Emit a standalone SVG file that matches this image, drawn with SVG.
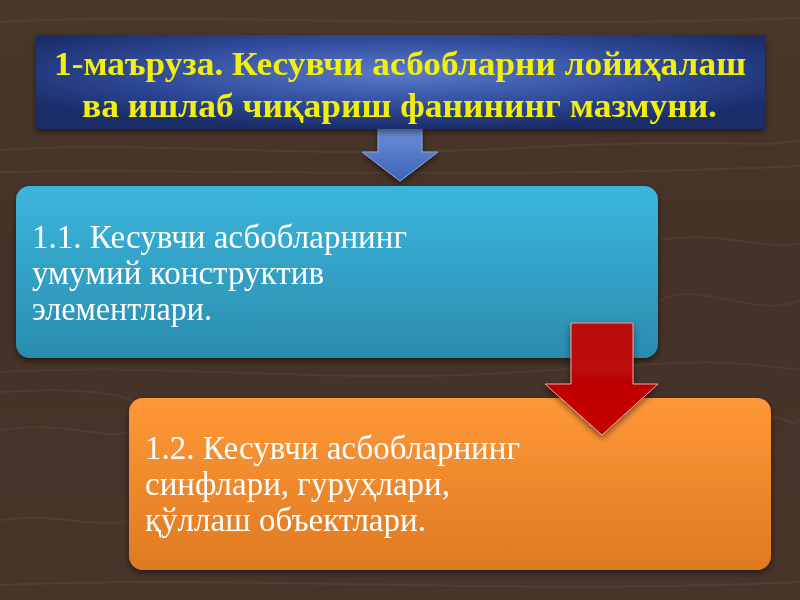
<svg xmlns="http://www.w3.org/2000/svg" width="800" height="600" viewBox="0 0 800 600">
  <defs>
    <linearGradient id="wood" x1="0" y1="0" x2="0" y2="1">
      <stop offset="0" stop-color="#4a372a"/>
      <stop offset="0.5" stop-color="#453228"/>
      <stop offset="1" stop-color="#48352a"/>
    </linearGradient>
    <radialGradient id="titleGrad" cx="0.5" cy="0.4" r="0.6">
      <stop offset="0" stop-color="#5a7bcc"/>
      <stop offset="0.6" stop-color="#2f4a98"/>
      <stop offset="1" stop-color="#1b2d6a"/>
    </radialGradient>
    <linearGradient id="blueGrad" x1="0" y1="0" x2="0" y2="1">
      <stop offset="0" stop-color="#3bb6dd"/>
      <stop offset="1" stop-color="#2a8cae"/>
    </linearGradient>
    <linearGradient id="orangeGrad" x1="0" y1="0" x2="0" y2="1">
      <stop offset="0" stop-color="#ff9838"/>
      <stop offset="1" stop-color="#de7a22"/>
    </linearGradient>
    <linearGradient id="blueArrow" x1="0" y1="0" x2="0" y2="1">
      <stop offset="0" stop-color="#6a8fd8"/>
      <stop offset="1" stop-color="#3f62b5"/>
    </linearGradient>
    <linearGradient id="redArrow" x1="0" y1="0" x2="0" y2="1">
      <stop offset="0" stop-color="#b80c0c"/>
      <stop offset="1" stop-color="#c40000"/>
    </linearGradient>
    <filter id="shadow" x="-10%" y="-10%" width="120%" height="130%">
      <feDropShadow dx="0" dy="3" stdDeviation="3" flood-color="#000" flood-opacity="0.5"/>
    </filter>
  </defs>
  <style>
    .grain { fill: none; stroke: #6b5444; stroke-opacity: 0.3; stroke-width: 2; }
    .title { font-family: "Liberation Serif", serif; font-weight: bold; font-size: 33px; fill: #f2ef0a; }
    .body { font-family: "Liberation Serif", serif; font-size: 34px; fill: #ffffff; }
  </style>

  <rect x="0" y="0" width="800" height="600" fill="url(#wood)"/>
  <g id="grain">
    <path class="grain" d="M0 22 C200 12 450 30 800 18"/>
    <path class="grain" d="M0 150 C150 140 300 160 520 148 S760 150 800 140"/>
    <path class="grain" d="M0 172 C200 168 500 180 800 166"/>
    <path class="grain" d="M0 372 C160 362 330 385 520 372 S720 360 800 370"/>
    <path class="grain" d="M0 392 C100 386 150 398 130 410"/>
    <path class="grain" d="M660 240 C720 230 760 250 800 244"/>
    <path class="grain" d="M660 300 C700 280 760 320 800 300"/>
    <path class="grain" d="M0 430 C60 420 100 440 130 432"/>
    <path class="grain" d="M0 520 C60 512 100 530 130 520"/>
    <path class="grain" d="M0 585 C250 575 500 595 800 582"/>
    <path class="grain" d="M770 420 C780 410 790 430 800 420"/>
  </g>

  <g id="connectors">
    <path d="M378 129 L422 129 L422 152 L438 152 L400 181 L362 152 L378 152 Z" fill="url(#blueArrow)" stroke="#8aa6e0" stroke-width="1" filter="url(#shadow)"/>
  </g>

  <g id="title-node" filter="url(#shadow)">
    <rect x="36" y="35" width="729" height="94" fill="url(#titleGrad)"/>
    <text class="title" x="54" y="75" textLength="692" lengthAdjust="spacingAndGlyphs">1-маъруза. Кесувчи асбобларни лойиҳалаш</text>
    <text class="title" x="82" y="117" textLength="635" lengthAdjust="spacingAndGlyphs">ва ишлаб чиқариш фанининг мазмуни.</text>
  </g>

  <g id="node-1-1" filter="url(#shadow)">
    <rect x="16" y="186" width="642" height="172" rx="14" fill="url(#blueGrad)"/>
    <text class="body" x="32" y="248" textLength="375" lengthAdjust="spacingAndGlyphs">1.1. Кесувчи асбобларнинг</text>
    <text class="body" x="32" y="284" textLength="292" lengthAdjust="spacingAndGlyphs">умумий конструктив</text>
    <text class="body" x="32" y="320" textLength="180" lengthAdjust="spacingAndGlyphs">элементлари.</text>
  </g>

  <g id="node-1-2" filter="url(#shadow)">
    <rect x="129" y="398" width="642" height="172" rx="14" fill="url(#orangeGrad)"/>
    <text class="body" x="145" y="459" textLength="375" lengthAdjust="spacingAndGlyphs">1.2. Кесувчи асбобларнинг</text>
    <text class="body" x="145" y="495" textLength="305" lengthAdjust="spacingAndGlyphs">синфлари, гуруҳлари,</text>
    <text class="body" x="145" y="531" textLength="281" lengthAdjust="spacingAndGlyphs">қўллаш объектлари.</text>
  </g>

  <g id="connectors-2">
    <path d="M571 323 L633 323 L633 384 L658 384 L602 435 L545 384 L571 384 Z" fill="url(#redArrow)" stroke="#f0a0a0" stroke-width="1" filter="url(#shadow)"/>
  </g>
</svg>
